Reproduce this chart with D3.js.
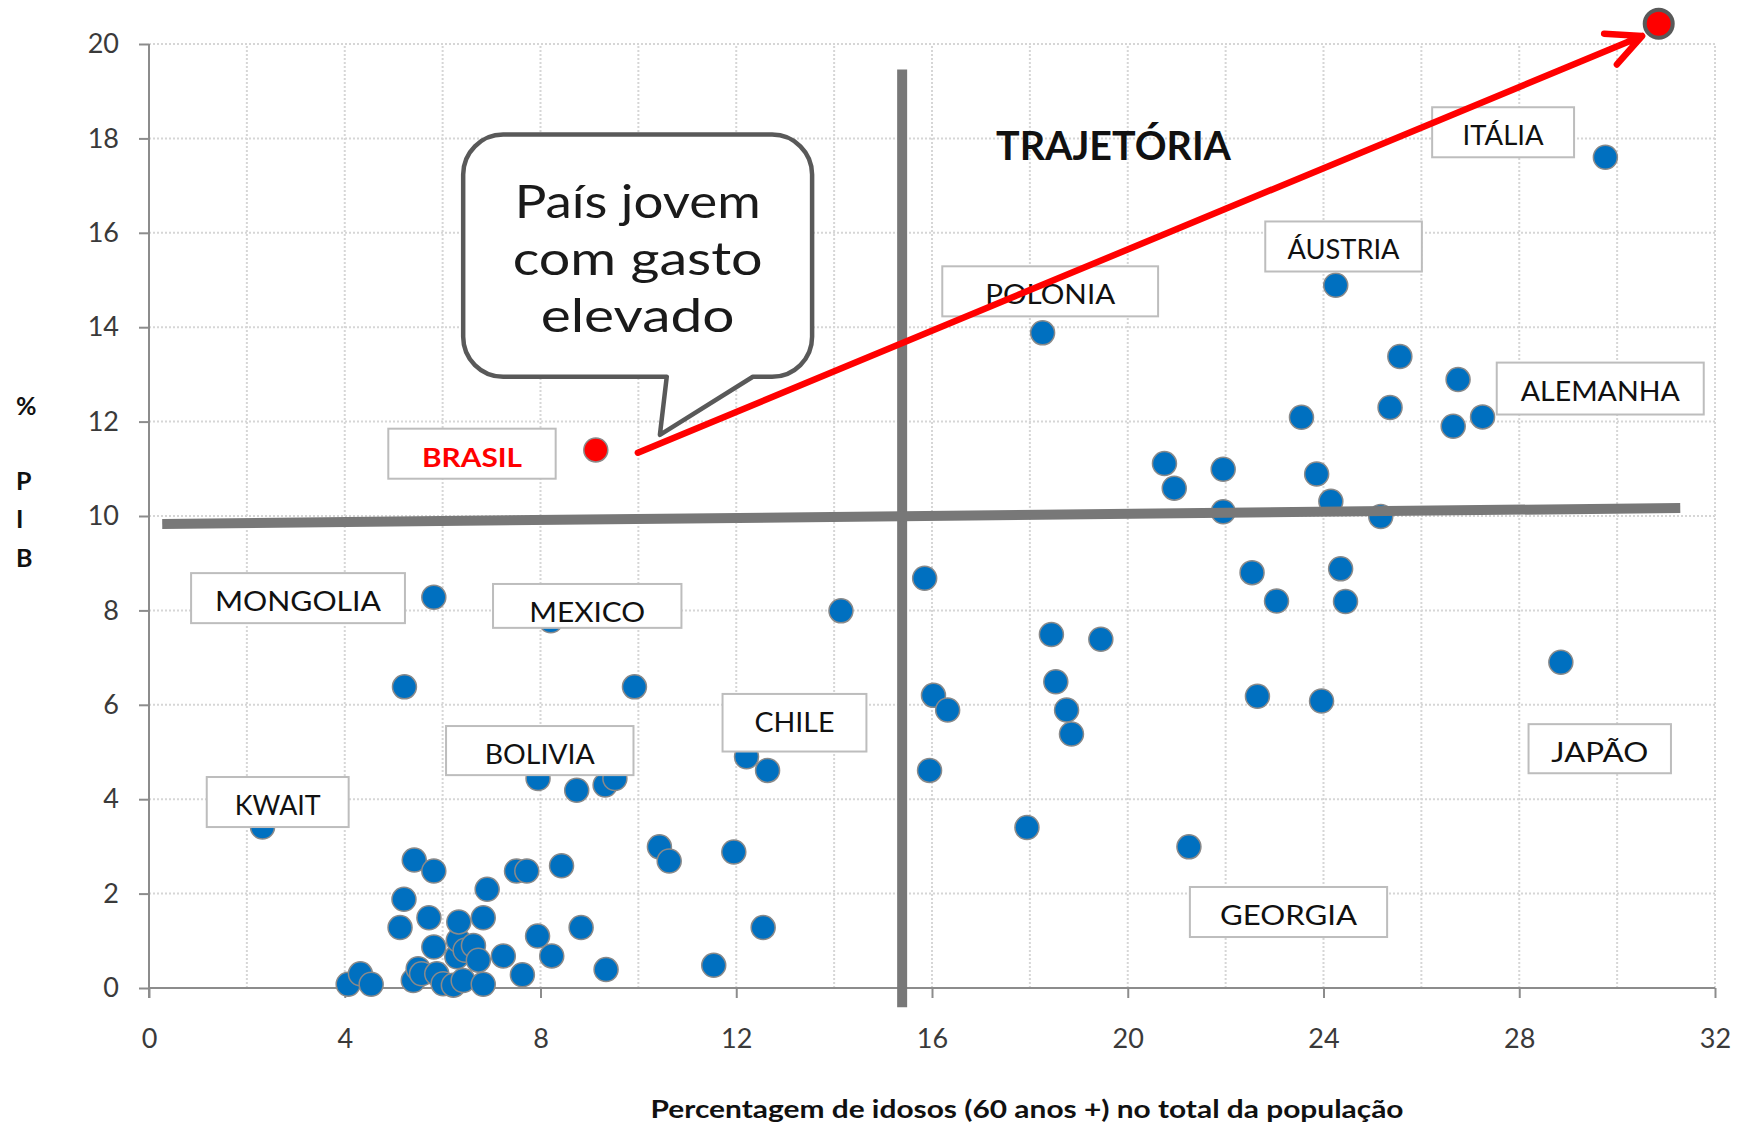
<!DOCTYPE html>
<html lang="pt">

<head>
    <meta charset="UTF-8">
    <title>Gasto com saúde x envelhecimento</title>
    <script src="https://d3js.org/d3.v7.min.js"></script>
    <style>
        body {
            margin: 0;
            background: #fff;
        }

        svg text {
            font-family: Lato, "Open Sans", sans-serif;
        }

        .grid line {
            stroke: #d6d6d6;
            stroke-width: 2;
            stroke-dasharray: 2 2;
        }

        .axis path,
        .axis line {
            stroke: #8c8c8c;
            stroke-width: 2;
        }

        .axis text {
            font-size: 27px;
            fill: #3a3a3a;
        }
    </style>
</head>

<body>
    <script>
        // Ticks
        const xTicks = [0, 4, 8, 12, 16, 20, 24, 28, 32];
        const yTicks = [0, 2, 4, 6, 8, 10, 12, 14, 16, 18, 20];
        const gridX = d3.range(2, 33, 2);
        const gridY = d3.range(2, 21, 2);

        // Países: [% idosos, % PIB]
        const paises = [
            [2.32, 3.41],
            [4.07, 0.08], [4.32, 0.30], [4.54, 0.08],
            [5.13, 1.28], [5.21, 1.88], [5.42, 2.71], [5.82, 2.48], [5.72, 1.49], [5.82, 0.87],
            [5.40, 0.16], [5.50, 0.41], [5.57, 0.30], [5.88, 0.30], [6.01, 0.09], [6.22, 0.06], [6.42, 0.16],
            [6.29, 0.66], [6.32, 1.01], [6.46, 0.80], [6.63, 0.90], [6.73, 0.59], [6.33, 1.40], [6.83, 1.49],
            [6.91, 2.09], [6.83, 0.08],
            [7.24, 0.68], [7.63, 0.28], [7.51, 2.48], [7.72, 2.48], [7.94, 1.10], [8.23, 0.68], [8.43, 2.59],
            [8.83, 1.28], [9.34, 0.39],
            [5.22, 6.38], [5.82, 8.28], [8.21, 7.78], [9.92, 6.38],
            [7.95, 4.44], [8.74, 4.19], [9.32, 4.30], [9.52, 4.44],
            [12.21, 4.90], [12.64, 4.61],
            [10.43, 2.99], [10.63, 2.69], [11.95, 2.88], [12.55, 1.28], [11.54, 0.48],
            [14.14, 7.99],
            [15.85, 8.68], [16.03, 6.20], [16.32, 5.89], [15.95, 4.61],
            [17.94, 3.40], [18.44, 7.49], [19.45, 7.39], [18.53, 6.49], [18.75, 5.89], [18.85, 5.38],
            [18.26, 13.88],
            [20.75, 11.11], [20.95, 10.59], [21.95, 10.99], [21.95, 10.09],
            [21.25, 2.99],
            [22.54, 8.80], [23.04, 8.20], [24.35, 8.88], [24.45, 8.19],
            [22.65, 6.18], [23.96, 6.08],
            [23.55, 12.09], [23.86, 10.89], [24.15, 10.31], [25.17, 9.99],
            [25.36, 12.30], [25.56, 13.38], [26.65, 11.90], [26.75, 12.89], [27.25, 12.10],
            [24.25, 14.89], [29.76, 17.60], [28.85, 6.90]
        ];

        const brasil = [9.13, 11.40];
        const destino = [30.85, 20.43];

        // Rótulos: caixa em unidades dos eixos
        const rotulos = [
            { nome: "ITÁLIA", x0: 26.22, x1: 29.12, yTop: 18.66, yBot: 17.60 },
            { nome: "ÁUSTRIA", x0: 22.81, x1: 26.01, yTop: 16.24, yBot: 15.18 },
            { nome: "POLONIA", x0: 16.21, x1: 20.62, yTop: 15.29, yBot: 14.23 },
            { nome: "ALEMANHA", x0: 27.54, x1: 31.77, yTop: 13.25, yBot: 12.15 },
            { nome: "BRASIL", x0: 4.89, x1: 8.31, yTop: 11.85, yBot: 10.79 },
            { nome: "MONGOLIA", x0: 0.86, x1: 5.23, yTop: 8.79, yBot: 7.73 },
            { nome: "MEXICO", x0: 7.03, x1: 10.88, yTop: 8.56, yBot: 7.63 },
            { nome: "BOLIVIA", x0: 6.07, x1: 9.90, yTop: 5.55, yBot: 4.51 },
            { nome: "CHILE", x0: 11.72, x1: 14.66, yTop: 6.23, yBot: 5.01 },
            { nome: "KWAIT", x0: 1.18, x1: 4.08, yTop: 4.47, yBot: 3.41 },
            { nome: "JAPÃO", x0: 28.19, x1: 31.10, yTop: 5.59, yBot: 4.55 },
            { nome: "GEORGIA", x0: 21.27, x1: 25.30, yTop: 2.14, yBot: 1.08 }
        ];

        // Linhas divisórias e seta de trajetória
        const linhaVertical = [[15.39, -0.41], [15.39, 19.46]];
        const linhaHorizontal = [[0.27, 9.83], [31.29, 10.17]];
        const seta = [[9.99, 11.34], [30.51, 20.17]];

        // Balão
        const balao = { x0: 6.42, x1: 13.55, yTop: 18.08, yBot: 12.95, baseL: 10.58, baseR: 12.34, ponta: [10.44, 11.72] };
        const balaoTexto = ["País jovem", "com gasto", "elevado"];

        // Text widths, px
        const largTexto = {
            "ITÁLIA": 81, "ÁUSTRIA": 112, "POLONIA": 130, "ALEMANHA": 159, "BRASIL": 100, "MONGOLIA": 166,
            "MEXICO": 116, "BOLIVIA": 110, "CHILE": 80, "KWAIT": 86, "JAPÃO": 97, "GEORGIA": 137
        };

        const width = 1744;
        const height = 1126;

        const x = d3.scaleLinear().domain([0, 32]).range([149, 1715]);
        const y = d3.scaleLinear().domain([0, 20]).range([988, 44]);

        const svg = d3.select("body").append("svg")
            .attr("width", width)
            .attr("height", height);

        // Grid
        const grid = svg.append("g").attr("class", "grid");
        grid.selectAll(".gx").data(gridX).join("line")
            .attr("x1", d => x(d)).attr("x2", d => x(d))
            .attr("y1", y(0)).attr("y2", y(20));
        grid.selectAll(".gy").data(gridY).join("line")
            .attr("x1", x(0)).attr("x2", x(32))
            .attr("y1", d => y(d)).attr("y2", d => y(d));

        // Axes
        svg.append("g")
            .attr("class", "axis")
            .attr("transform", `translate(0,${y(0)})`)
            .call(d3.axisBottom(x).tickValues(xTicks).tickSize(10).tickSizeOuter(0).tickPadding(31))
            .call(g => g.select(".domain").attr("d", `M${x(0)},0H${x(32)}`));

        svg.append("g")
            .attr("class", "axis")
            .attr("transform", `translate(${x(0)},0)`)
            .call(d3.axisLeft(y).tickValues(yTicks).tickSize(10).tickSizeOuter(0).tickPadding(20))
            .call(g => g.select(".domain").attr("d", `M0,${y(0) + 10}V${y(20)}`));

        // Dots
        svg.append("g").selectAll("circle")
            .data(paises)
            .join("circle")
            .attr("cx", d => x(d[0]))
            .attr("cy", d => y(d[1]))
            .attr("r", 12)
            .attr("fill", "#0070c0")
            .attr("stroke", "#8a8a8a")
            .attr("stroke-width", 1.5);

        svg.append("circle")
            .attr("cx", x(brasil[0]))
            .attr("cy", y(brasil[1]))
            .attr("r", 12)
            .attr("fill", "#ff0000")
            .attr("stroke", "#8a8a8a")
            .attr("stroke-width", 1.5);

        // Gray quadrant lines
        const line = d3.line().x(d => x(d[0])).y(d => y(d[1]));
        [linhaVertical, linhaHorizontal].forEach(l => {
            svg.append("path")
                .attr("d", line(l))
                .attr("stroke", "#787878")
                .attr("stroke-width", 10)
                .attr("fill", "none");
        });

        // Labels
        const rot = svg.append("g").selectAll("g")
            .data(rotulos)
            .join("g");

        rot.append("rect")
            .attr("x", d => x(d.x0))
            .attr("y", d => y(d.yTop))
            .attr("width", d => x(d.x1) - x(d.x0))
            .attr("height", d => y(d.yBot) - y(d.yTop))
            .attr("fill", "#fff")
            .attr("stroke", "#bdbdbd")
            .attr("stroke-width", 2);

        rot.append("text")
            .attr("x", d => (x(d.x0) + x(d.x1)) / 2)
            .attr("y", d => y(d.yTop) + 38)
            .attr("text-anchor", "middle")
            .attr("font-size", 27)
            .attr("font-weight", d => d.nome === "BRASIL" ? 700 : 400)
            .attr("fill", d => d.nome === "BRASIL" ? "#ff0000" : "#111")
            .attr("textLength", d => largTexto[d.nome])
            .attr("lengthAdjust", "spacingAndGlyphs")
            .text(d => d.nome);

        // Speech bubble
        const bx0 = x(balao.x0), bx1 = x(balao.x1), by0 = y(balao.yTop), by1 = y(balao.yBot);
        const r = 40;
        const bubblePath = [
            `M${bx0 + r},${by0}`,
            `H${bx1 - r}`,
            `A${r},${r} 0 0 1 ${bx1},${by0 + r}`,
            `V${by1 - r}`,
            `A${r},${r} 0 0 1 ${bx1 - r},${by1}`,
            `H${x(balao.baseR)}`,
            `L${x(balao.ponta[0])},${y(balao.ponta[1])}`,
            `L${x(balao.baseL)},${by1}`,
            `H${bx0 + r}`,
            `A${r},${r} 0 0 1 ${bx0},${by1 - r}`,
            `V${by0 + r}`,
            `A${r},${r} 0 0 1 ${bx0 + r},${by0}`,
            "Z"
        ].join("");

        svg.append("path")
            .attr("d", bubblePath)
            .attr("fill", "#fff")
            .attr("stroke", "#595959")
            .attr("stroke-width", 4.5)
            .attr("stroke-linejoin", "round");

        const largBalao = [246, 250, 194];
        svg.append("g").selectAll("text")
            .data(balaoTexto)
            .join("text")
            .attr("x", (bx0 + bx1) / 2)
            .attr("y", (d, i) => by0 + 83 + i * 57)
            .attr("text-anchor", "middle")
            .attr("font-size", 46)
            .attr("fill", "#1a1a1a")
            .attr("textLength", (d, i) => largBalao[i])
            .attr("lengthAdjust", "spacingAndGlyphs")
            .text(d => d);

        // Red arrow
        const [sx, sy] = [x(seta[0][0]), y(seta[0][1])];
        const [ex, ey] = [x(seta[1][0]), y(seta[1][1])];
        const ang = Math.atan2(sy - ey, sx - ex);
        const armLen = 38, spread = 26 * Math.PI / 180;
        const arm1 = [ex + armLen * Math.cos(ang - spread), ey + armLen * Math.sin(ang - spread)];
        const arm2 = [ex + armLen * Math.cos(ang + spread), ey + armLen * Math.sin(ang + spread)];

        svg.append("path")
            .attr("d", `M${sx},${sy}L${ex},${ey}M${arm1[0]},${arm1[1]}L${ex},${ey}L${arm2[0]},${arm2[1]}`)
            .attr("stroke", "#ff0000")
            .attr("stroke-width", 6.5)
            .attr("fill", "none")
            .attr("stroke-linecap", "round")
            .attr("stroke-linejoin", "round");

        svg.append("circle")
            .attr("cx", x(destino[0]))
            .attr("cy", y(destino[1]))
            .attr("r", 14)
            .attr("fill", "#ff0000")
            .attr("stroke", "#595959")
            .attr("stroke-width", 4);

        // Title of the trajectory
        svg.append("text")
            .attr("x", 996)
            .attr("y", 160)
            .attr("font-size", 40)
            .attr("font-weight", 700)
            .attr("fill", "#111")
            .attr("textLength", 235)
            .attr("lengthAdjust", "spacingAndGlyphs")
            .text("TRAJETÓRIA");

        // Axis titles
        svg.append("text")
            .attr("x", 1027)
            .attr("y", 1118)
            .attr("text-anchor", "middle")
            .attr("font-size", 24)
            .attr("font-weight", 700)
            .attr("fill", "#111")
            .attr("textLength", 753)
            .attr("lengthAdjust", "spacingAndGlyphs")
            .text("Percentagem de idosos (60 anos +) no total da população");

        svg.append("g").selectAll("text")
            .data([["%", 415], ["P", 490], ["I", 528], ["B", 567]])
            .join("text")
            .attr("x", 16)
            .attr("y", d => d[1])
            .attr("font-size", 25)
            .attr("font-weight", 700)
            .attr("fill", "#111")
            .text(d => d[0]);
    </script>
</body>

</html>
